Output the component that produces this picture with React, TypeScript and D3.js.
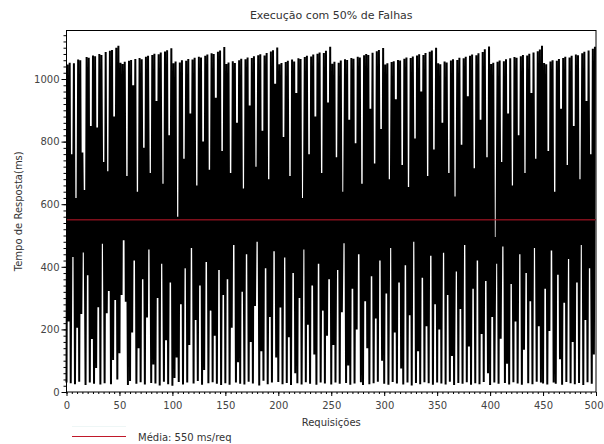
import { useRef, useEffect } from 'react'
import * as d3 from 'd3'

// tempo de resposta (ms) de cada requisicao, um ciclo de 50 por linha
const temposResposta: number[] = [
	30, 1046, 225, 1052, 28, 760, 431, 1050, 25, 620, 205, 1062, 33, 1060, 249, 765, 446, 645, 22, 1070, 373, 1068, 30, 850, 169, 1075, 26, 1073, 77, 845, 271, 1080, 24, 1077, 474, 735, 28, 1086, 252, 705, 323, 1090, 25, 1093, 102, 880, 294, 1100, 40, 1106,
	124, 1052, 310, 1048, 485, 1055, 288, 690, 22, 1058, 35, 1061, 190, 980, 420, 1064, 26, 640, 140, 1067, 31, 1063, 360, 780, 24, 1071, 238, 1074, 455, 700, 29, 1077, 88, 1081, 27, 930, 300, 1079, 21, 1085, 410, 665, 33, 1088, 165, 1092, 25, 820, 350, 1098,
	20, 1050, 45, 1056, 110, 560, 32, 1053, 280, 1060, 24, 745, 395, 1058, 30, 1064, 150, 890, 460, 1062, 27, 1068, 230, 660, 35, 1071, 340, 1069, 23, 800, 70, 1074, 415, 1078, 28, 710, 260, 1082, 31, 1080, 180, 940, 26, 1087, 390, 1091, 22, 770, 310, 1102,
	28, 1048, 360, 1053, 23, 700, 205, 1057, 470, 1051, 30, 860, 95, 1060, 26, 1065, 320, 650, 24, 1063, 440, 1069, 33, 915, 160, 1067, 27, 1073, 275, 720, 480, 1076, 21, 1079, 130, 835, 36, 1075, 395, 1083, 25, 680, 240, 1088, 30, 1092, 450, 985, 110, 1101,
	32, 1047, 270, 1051, 25, 815, 430, 1054, 29, 1058, 175, 690, 22, 1062, 380, 1056, 60, 955, 28, 1066, 300, 1064, 24, 620, 455, 1070, 31, 1074, 215, 760, 26, 1072, 340, 1078, 120, 880, 23, 1081, 410, 1085, 30, 700, 260, 1083, 27, 1090, 180, 925, 360, 1103,
	24, 1049, 150, 1055, 30, 750, 390, 1052, 26, 1059, 255, 640, 475, 1063, 29, 1061, 85, 870, 23, 1067, 330, 1065, 27, 795, 200, 1071, 440, 1069, 31, 665, 22, 1076, 290, 1080, 140, 1077, 25, 905, 370, 1084, 28, 730, 235, 1089, 33, 1093, 420, 840, 100, 1099,
	26, 1046, 315, 1050, 23, 680, 460, 1054, 32, 1057, 190, 935, 27, 1061, 350, 1059, 75, 725, 24, 1065, 405, 1069, 30, 655, 245, 1067, 21, 1072, 480, 810, 29, 1075, 130, 1079, 25, 960, 365, 1077, 31, 1083, 210, 690, 28, 1087, 435, 1091, 23, 775, 280, 1100,
	30, 1050, 200, 1047, 27, 860, 445, 1056, 24, 1053, 310, 700, 33, 1059, 115, 1063, 22, 625, 385, 1061, 29, 1068, 265, 790, 26, 1066, 470, 1071, 31, 945, 145, 1074, 23, 1078, 330, 715, 28, 1076, 420, 1082, 25, 870, 185, 1086, 32, 1095, 355, 750, 60, 1104,
	22, 1048, 240, 1052, 30, 495, 410, 1055, 26, 1059, 170, 735, 465, 1057, 29, 1063, 90, 890, 24, 1066, 345, 660, 31, 1070, 225, 1068, 27, 820, 440, 1073, 23, 1077, 135, 700, 380, 1075, 28, 1081, 290, 955, 25, 1085, 460, 745, 33, 1089, 210, 1094, 30, 1106,
	27, 1051, 330, 1047, 24, 770, 195, 1056, 452, 1060, 30, 640, 26, 1058, 375, 1064, 105, 905, 23, 1067, 285, 1071, 32, 725, 425, 1069, 28, 1074, 160, 850, 25, 1078, 350, 1076, 29, 680, 470, 1082, 22, 1087, 230, 930, 31, 1091, 395, 760, 26, 1097, 120, 1103,
]

const media = 550
const yTicks = [0, 200, 400, 600, 800, 1000]
const xTicks = [0, 50, 100, 150, 200, 250, 300, 350, 400, 450, 500]
const titulo = 'Execução com 50% de Falhas'
const rotuloX = 'Requisições'
const rotuloY = 'Tempo de Resposta(ms)'
const legendaMedia = 'Média: 550 ms/req'

export default function App() {
	const ref = useRef<SVGSVGElement>(null)

	const chartWidth = 604
	const chartHeight = 444
	const plot = { left: 66.5, right: 596, top: 30.5, bottom: 392 }
	const font = 'DejaVu Sans'

	const draw = () => {
		const svg = d3.select(ref.current)
		svg.selectAll('*').remove()

		const x = d3.scaleLinear().domain([0, 500]).range([plot.left, plot.right])
		const y = d3.scaleLinear().domain([0, 1155]).range([plot.bottom, plot.top])

		svg
			.append('rect')
			.attr('width', chartWidth)
			.attr('height', chartHeight)
			.style('fill', '#fff')

		svg
			.append('text')
			.attr('x', (plot.left + plot.right) / 2)
			.attr('y', 19)
			.attr('text-anchor', 'middle')
			.attr('font-family', font)
			.attr('font-size', 11)
			.style('fill', '#333')
			.text(titulo)

		// serie
		const linha = d3
			.line<number>()
			.x((d, i) => x(i))
			.y((d) => y(d))
		svg
			.append('path')
			.datum(temposResposta)
			.attr('d', linha)
			.style('fill', 'none')
			.style('stroke', '#000')
			.style('stroke-width', '2px')

		// media
		svg
			.append('line')
			.attr('x1', plot.left)
			.attr('x2', plot.right)
			.attr('y1', y(media))
			.attr('y2', y(media))
			.style('stroke', '#c0182a')
			.style('stroke-width', '1px')

		svg
			.append('rect')
			.attr('x', plot.left)
			.attr('y', plot.top)
			.attr('width', plot.right - plot.left)
			.attr('height', plot.bottom - plot.top)
			.style('fill', 'none')
			.style('stroke', '#000')
			.style('stroke-width', '1px')

		// eixo y
		svg
			.append('g')
			.attr('transform', `translate(${plot.left},0)`)
			.call(d3.axisLeft(y).tickValues(d3.range(0, 1160, 20)).tickSize(3).tickFormat(() => ''))
			.call((g) => g.select('.domain').remove())
		svg
			.append('g')
			.attr('transform', `translate(${plot.left},0)`)
			.call(d3.axisLeft(y).tickValues(yTicks).tickSize(5).tickPadding(2).tickFormat(d3.format('d')))
			.call((g) => g.select('.domain').remove())
			.call((g) => g.selectAll('.tick text').style('fill', '#444'))
			.attr('font-size', 10)
			.attr('font-family', font)

		// eixo x
		svg
			.append('g')
			.attr('transform', `translate(0,${plot.bottom})`)
			.call(d3.axisBottom(x).tickValues(d3.range(0, 505, 5)).tickSize(2).tickFormat(() => ''))
			.call((g) => g.select('.domain').remove())
		svg
			.append('g')
			.attr('transform', `translate(0,${plot.bottom})`)
			.call(d3.axisBottom(x).tickValues(xTicks).tickSize(4).tickPadding(6).tickFormat(d3.format('d')))
			.call((g) => g.select('.domain').remove())
			.call((g) => g.selectAll('.tick text').style('fill', '#444'))
			.call((g) => g.selectAll('.tick:last-of-type text').attr('dx', -2.5))
			.attr('font-size', 10)
			.attr('font-family', font)

		svg
			.append('text')
			.attr('x', (plot.left + plot.right) / 2)
			.attr('y', 426)
			.attr('text-anchor', 'middle')
			.attr('font-family', font)
			.attr('font-size', 10)
			.style('fill', '#333')
			.text(rotuloX)

		svg
			.append('text')
			.attr('transform', `translate(21.5,${(plot.top + plot.bottom) / 2}) rotate(-90)`)
			.attr('text-anchor', 'middle')
			.attr('font-family', font)
			.attr('font-size', 10)
			.style('fill', '#333')
			.text(rotuloY)

		// legenda
		svg
			.append('line')
			.attr('x1', 72)
			.attr('x2', 126)
			.attr('y1', 426.5)
			.attr('y2', 426.5)
			.style('stroke', '#eef6f6')
		svg
			.append('line')
			.attr('x1', 72)
			.attr('x2', 126)
			.attr('y1', 436.5)
			.attr('y2', 436.5)
			.style('stroke', '#c0182a')
		svg
			.append('text')
			.attr('x', 138)
			.attr('y', 441)
			.attr('font-family', font)
			.attr('font-size', 10)
			.style('fill', '#333')
			.text(legendaMedia)
	}

	useEffect(() => {
		draw()
	}, [])

	return (
		<div style={{ position: 'absolute', left: 0, top: 0 }}>
			<svg ref={ref} width={chartWidth} height={chartHeight} style={{ display: 'block' }}></svg>
		</div>
	)
}
